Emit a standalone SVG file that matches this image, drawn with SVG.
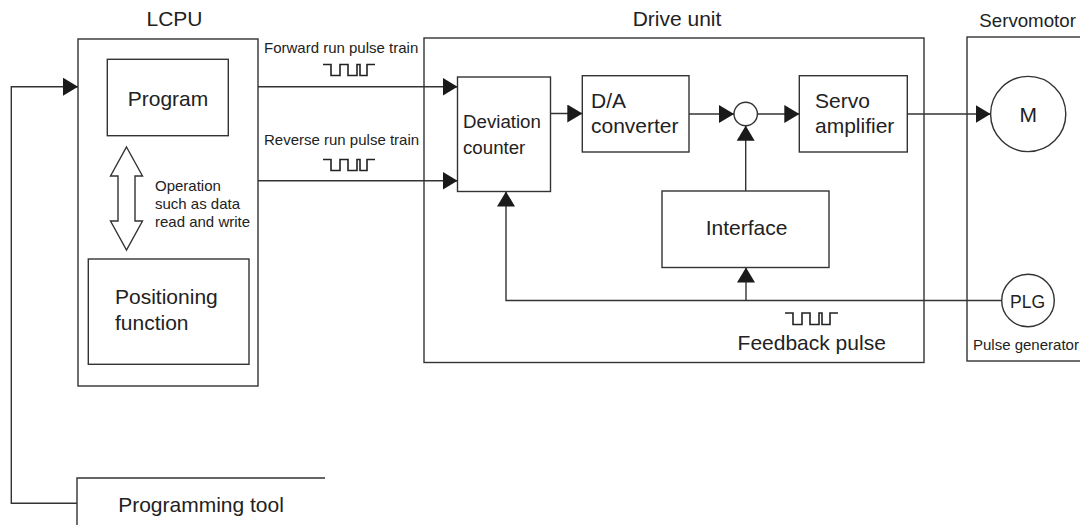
<svg xmlns="http://www.w3.org/2000/svg" width="1080" height="525" viewBox="0 0 1080 525">
<defs>
<style>
.box{fill:none;stroke:#333;stroke-width:1.4}
.ln{fill:none;stroke:#333;stroke-width:1.4}
.pl{fill:none;stroke:#222;stroke-width:1.6}
text{font-family:"Liberation Sans",Arial,Helvetica,sans-serif;fill:#222}
.t21{font-size:21px}
.t19{font-size:18.7px}
.t15{font-size:15px}
.mid{text-anchor:middle}
</style>
<marker id="ah" viewBox="0 0 15 18" refX="15" refY="9" markerWidth="15" markerHeight="18" markerUnits="userSpaceOnUse" orient="auto">
<path d="M0,0 L15,9 L0,18 z" fill="#1a1a1a"/>
</marker>
</defs>
<rect width="1080" height="525" fill="#fff"/>

<g id="lcpu">
<rect class="box" x="78" y="39" width="180" height="347"/>
<text class="t21 mid" x="174.5" y="26">LCPU</text>
</g>
<g id="program">
<rect class="box" x="107.3" y="59.3" width="121" height="76.4"/>
<text class="t21 mid" x="168" y="106">Program</text>
</g>
<g id="operation">
<polygon class="box" fill="#fff" points="126.5,147 142.5,176 135,176 135,221 142.5,221 126.5,250 110.5,221 118,221 118,176 110.5,176"/>
<text class="t15" x="155" y="191">Operation</text>
<text class="t15" x="155" y="209">such as data</text>
<text class="t15" x="155" y="227">read and write</text>
</g>
<g id="positioning">
<rect class="box" x="88.3" y="259" width="160.7" height="105.3"/>
<text class="t21" x="115" y="304">Positioning</text>
<text class="t21" x="115" y="330">function</text>
</g>
<g id="programming-tool">
<path class="box" d="M325,478 H77 V535"/>
<text class="t21 mid" x="201" y="512">Programming tool</text>
</g>

<g id="drive-unit">
<rect class="box" x="424" y="38" width="500" height="324.5"/>
<text class="t21 mid" x="677" y="26">Drive unit</text>
</g>
<g id="deviation-counter">
<rect class="box" x="457.5" y="77" width="93" height="114.5"/>
<text class="t19" x="463" y="128">Deviation</text>
<text class="t19" x="463" y="154">counter</text>
</g>
<g id="da-converter">
<rect class="box" x="582.3" y="75.7" width="106.7" height="76.3"/>
<text class="t21" x="591" y="108">D/A</text>
<text class="t21" x="591" y="133">converter</text>
</g>
<g id="sum-junction">
<circle class="box" cx="745.7" cy="114" r="11.7"/>
</g>
<g id="servo-amplifier">
<rect class="box" x="799.3" y="75.7" width="108" height="76.3"/>
<text class="t21" x="815" y="108">Servo</text>
<text class="t21" x="815" y="133">amplifier</text>
</g>
<g id="interface">
<rect class="box" x="662" y="191" width="167" height="76.5"/>
<text class="t21 mid" x="746.5" y="235">Interface</text>
</g>

<g id="servomotor">
<rect class="box" x="967" y="37" width="130" height="324"/>
<text class="t19" x="979.3" y="26.7">Servomotor</text>
</g>
<g id="motor">
<circle class="box" cx="1028.2" cy="114" r="37.6"/>
<text class="t21 mid" x="1028.2" y="121.5">M</text>
</g>
<g id="plg">
<circle class="box" cx="1028" cy="300.5" r="26.3"/>
<text class="mid" font-size="17.5" x="1027.5" y="308">PLG</text>
<text class="t15" x="973" y="350">Pulse generator</text>
</g>

<g id="connectors">
<path class="ln" d="M77,503.3 H11.3 V86.7 H78" marker-end="url(#ah)"/>
<path class="ln" d="M258,86.7 H457.5" marker-end="url(#ah)"/>
<path class="ln" d="M258,180.7 H457.5" marker-end="url(#ah)"/>
<path class="ln" d="M550.5,113.5 H582.3" marker-end="url(#ah)"/>
<path class="ln" d="M689,114 H734" marker-end="url(#ah)"/>
<path class="ln" d="M757.4,114 H799.3" marker-end="url(#ah)"/>
<path class="ln" d="M907.3,114 H990.6" marker-end="url(#ah)"/>
<path class="ln" d="M745.7,191 V125.7" marker-end="url(#ah)"/>
<path class="ln" d="M1001.7,300.5 H506 V191.5" marker-end="url(#ah)"/>
<path class="ln" d="M746,300.5 V267.5" marker-end="url(#ah)"/>
</g>

<g id="labels">
<text class="t15" x="264" y="53">Forward run pulse train</text>
<path class="pl" d="M323,64.5 H331 V75.5 H340 V64.5 H348 V75.5 H357 V64.5 H360 V75.5 H367 V64.5 H375"/>
<text class="t15" x="264" y="145">Reverse run pulse train</text>
<path class="pl" d="M323,159.5 H331 V170.5 H340 V159.5 H348 V170.5 H357 V159.5 H360 V170.5 H367 V159.5 H375"/>
<path class="pl" d="M785,313 H793 V324.5 H802 V313 H810 V324.5 H819 V313 H822 V324.5 H830 V313 H838"/>
<text class="t21 mid" x="811.7" y="350">Feedback pulse</text>
</g>
</svg>
